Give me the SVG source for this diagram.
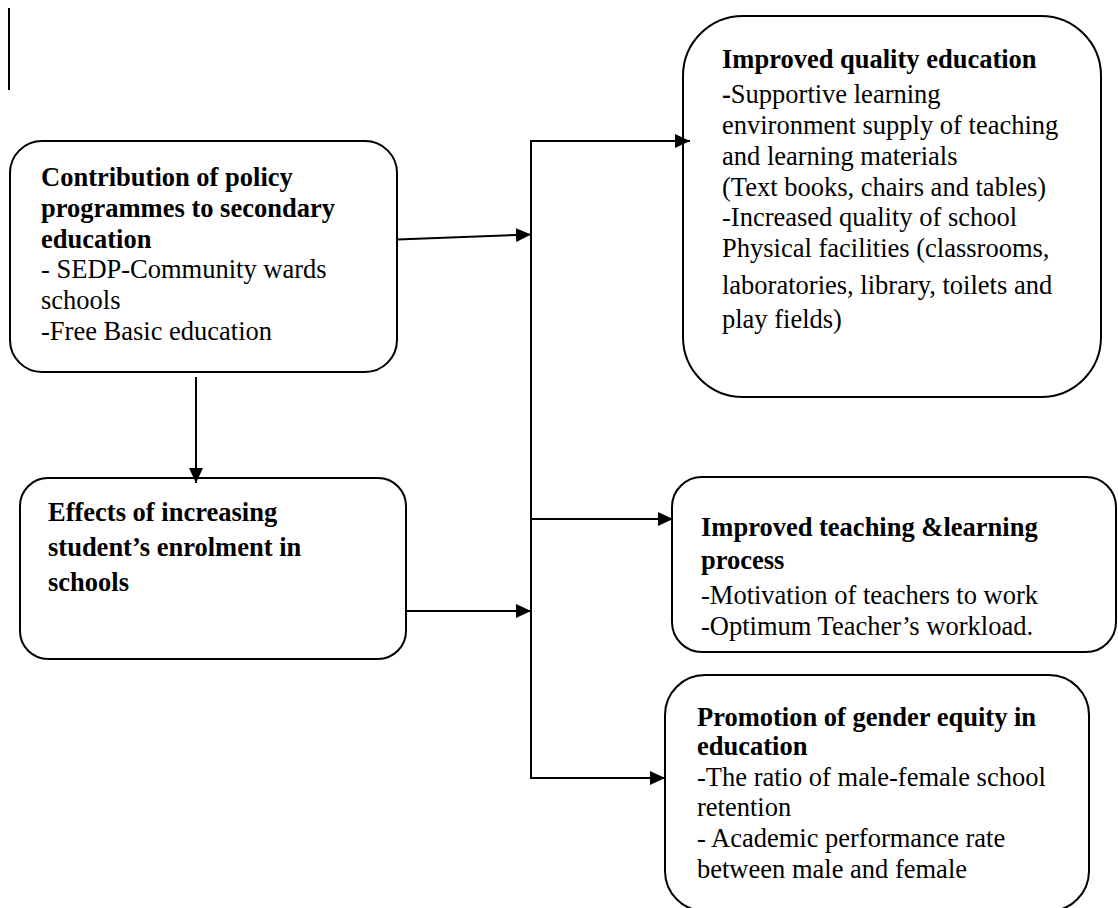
<svg xmlns="http://www.w3.org/2000/svg" width="1118" height="908" viewBox="0 0 1118 908">
  <defs>
    <marker id="arrow" viewBox="0 0 15 14" refX="15" refY="7" markerWidth="15" markerHeight="14" markerUnits="userSpaceOnUse" orient="auto">
      <path d="M0,0 L15,7 L0,14 Z" fill="#000"/>
    </marker>
    <style>
      .box { fill: #fff; stroke: #000; stroke-width: 2; }
      .wire { fill: none; stroke: #000; stroke-width: 2; }
      .arrow { fill: none; stroke: #000; stroke-width: 2; marker-end: url(#arrow); }
      text { font-family: "Liberation Serif", "Times New Roman", serif; font-size: 26.5px; fill: #000; }
      .b { font-weight: bold; }
    </style>
  </defs>

  <rect width="1118" height="908" fill="#fff"/>

  <!-- stray margin bar -->
  <line x1="9" y1="8" x2="9" y2="90" stroke="#000" stroke-width="2"/>

  <!-- policy programmes -->
  <g id="node-policy">
    <rect class="box" x="10" y="141" width="387" height="231" rx="32"/>
    <text>
      <tspan class="b" x="41" y="186">Contribution of policy</tspan>
      <tspan class="b" x="41" y="217">programmes to secondary</tspan>
      <tspan class="b" x="41" y="248">education</tspan>
      <tspan x="41" y="278">- SEDP-Community wards</tspan>
      <tspan x="41" y="309">schools</tspan>
      <tspan x="41" y="340">-Free Basic education</tspan>
    </text>
  </g>

  <!-- enrolment effects -->
  <g id="node-enrolment">
    <rect class="box" x="20" y="478" width="386" height="181" rx="28"/>
    <text class="b">
      <tspan x="48" y="521">Effects of increasing</tspan>
      <tspan x="48" y="556">student’s enrolment in</tspan>
      <tspan x="48" y="591">schools</tspan>
    </text>
  </g>

  <!-- quality education -->
  <g id="node-quality">
    <rect class="box" x="683" y="16" width="418" height="381" rx="60"/>
    <text>
      <tspan class="b" x="722" y="68">Improved quality education</tspan>
      <tspan x="722" y="103"><tspan class="b">-</tspan>Supportive learning</tspan>
      <tspan x="722" y="134">environment supply of teaching</tspan>
      <tspan x="722" y="165">and learning materials</tspan>
      <tspan x="722" y="196">(Text books, chairs and tables)</tspan>
      <tspan x="722" y="226">-Increased quality of school</tspan>
      <tspan x="722" y="257">Physical facilities (classrooms,</tspan>
      <tspan x="722" y="294">laboratories, library, toilets and</tspan>
      <tspan x="722" y="328">play fields)</tspan>
    </text>
  </g>

  <!-- teaching and learning -->
  <g id="node-teaching">
    <rect class="box" x="672" y="477" width="444" height="175" rx="30"/>
    <text>
      <tspan class="b" x="701" y="536">Improved teaching &amp;learning</tspan>
      <tspan class="b" x="701" y="569">process</tspan>
      <tspan x="701" y="604">-Motivation of teachers to work</tspan>
      <tspan x="701" y="635">-Optimum Teacher’s workload.</tspan>
    </text>
  </g>

  <!-- gender equity -->
  <g id="node-gender">
    <rect class="box" x="665" y="675" width="424" height="236" rx="40"/>
    <text>
      <tspan class="b" x="697" y="726">Promotion of gender equity in</tspan>
      <tspan class="b" x="697" y="755">education</tspan>
      <tspan x="697" y="786">-The ratio of male-female school</tspan>
      <tspan x="697" y="816">retention</tspan>
      <tspan x="697" y="847">- Academic performance rate</tspan>
      <tspan x="697" y="878">between male and female</tspan>
    </text>
  </g>

  <!-- connectors -->
  <g id="connectors">
    <line class="arrow" x1="397" y1="239.5" x2="531" y2="234.5"/>
    <polyline class="wire" points="531,778 531,141"/>
    <line class="arrow" x1="530" y1="141" x2="690" y2="141"/>
    <line class="arrow" x1="530" y1="519" x2="673" y2="519"/>
    <line class="arrow" x1="530" y1="778" x2="665" y2="778"/>
    <line class="arrow" x1="196" y1="377" x2="196" y2="483"/>
    <line class="arrow" x1="406" y1="611" x2="531" y2="611"/>
  </g>
</svg>
